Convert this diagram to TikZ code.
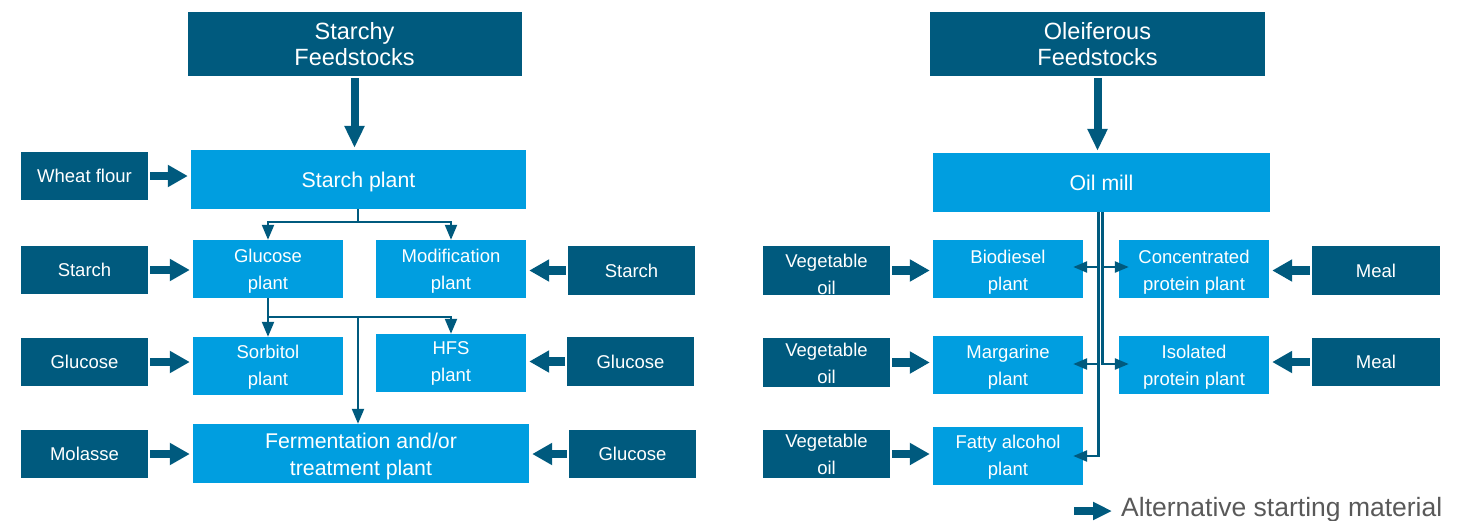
\documentclass[tikz,border=0pt]{standalone}
\usepackage{fontspec}
\setmainfont{Liberation Sans}
\usetikzlibrary{arrows.meta}
\definecolor{dk}{RGB}{0,90,126}
\definecolor{lt}{RGB}{0,158,224}
\definecolor{lg}{RGB}{89,89,89}
\newcommand\dn[2]{\raisebox{-#1}[\height][\depth]{#2}}
\begin{document}
\begin{tikzpicture}[x=1pt,y=-1pt,
  box/.style={inner sep=0pt,align=center,text=white,anchor=center},
  darkbox/.style={box,fill=dk,minimum width=127pt,minimum height=48pt,font=\fontsize{18.5}{27}\selectfont},
  headbox/.style={box,fill=dk,minimum width=334pt,minimum height=64pt,font=\fontsize{23.5}{26}\selectfont},
  bigbox/.style={box,fill=lt,minimum width=336pt,minimum height=59pt,font=\fontsize{21.3}{27}\selectfont},
  smallbox/.style={box,fill=lt,minimum width=150pt,minimum height=58pt,font=\fontsize{18.5}{27}\selectfont},
  fat/.style={draw=dk,line width=8.5pt,-{Triangle[width=21pt,length=20pt]},shorten <=2pt,shorten >=3pt},
  fatv/.style={draw=dk,line width=8pt,-{Triangle[width=19pt,length=22pt]},shorten <=2pt,shorten >=2pt},
  thinline/.style={draw=dk,line width=2.2pt},
  conn/.style={thinline,-{Triangle[width=12pt,length=15pt]}},
  connr/.style={draw=dk,line width=2.4pt,-{Triangle[width=11pt,length=14pt]},shorten >=-10pt},
]
\useasboundingbox (0,0) rectangle (1471,520);

% ---------- left part ----------
\node[headbox] (sf) at (354.5,44) {Starchy\\Feedstocks};
\node[bigbox,minimum width=335pt] (sp) at (358.5,179.5) {\dn{2pt}{Starch plant}};
\node[darkbox] (wf) at (84.5,176) {Wheat flour};
\node[smallbox] (gp) at (268,269) {\dn{2.5pt}{Glucose}\\\dn{2.5pt}{plant}};
\node[smallbox] (mp) at (451,269) {\dn{2.5pt}{Modification}\\\dn{2.5pt}{plant}};
\node[darkbox] (st1) at (84.5,270) {Starch};
\node[darkbox,minimum height=49pt] (st2) at (631.5,270.5) {Starch};
\node[smallbox] (sbp) at (268,366) {\dn{1pt}{Sorbitol}\\\dn{1pt}{plant}};
\node[smallbox] (hfs) at (451,363) {HFS\\plant};
\node[darkbox] (gl1) at (84.5,362) {Glucose};
\node[darkbox,minimum height=49pt] (gl2) at (630.5,361.5) {Glucose};
\node[bigbox] (fp) at (361,453.5) {\dn{2.5pt}{Fermentation and/or}\\\dn{2.5pt}{treatment plant}};
\node[darkbox] (mo) at (84.5,454) {Molasse};
\node[darkbox] (gl3) at (632.5,454) {Glucose};

\draw[fatv] (sf.south) -- (sf.south |- sp.north);
\draw[fat] (wf.east) -- (wf.east -| sp.west);
\draw[fat] (st1.east) -- (st1.east -| gp.west);
\draw[fat] (st2.west) -- (st2.west -| mp.east);
\draw[fat] (gl1.east) -- (gl1.east -| sbp.west);
\draw[fat] (gl2.west) -- (gl2.west -| hfs.east);
\draw[fat] (mo.east) -- (mo.east -| fp.west);
\draw[fat] (gl3.west) -- (gl3.west -| fp.east);

\coordinate (j1) at (358,222);
\coordinate (j2) at (268,317);
\coordinate (j3) at (358,317);
\draw[thinline] (sp.south -| j1) -- (j1);
\draw[conn] (j1) -| (gp.north);
\draw[conn] (j1) -| (mp.north);
\draw[conn] (gp.south) -- (j2) -- (sbp.north);
\draw[conn] (j2) -| (hfs.north);
\draw[conn] (j3) -- (j3 |- fp.north);

% ---------- right part ----------
\node[headbox,minimum width=335pt] (of) at (1097.5,44) {Oleiferous\\Feedstocks};
\node[bigbox,minimum width=337pt] (om) at (1101.5,182.5) {Oil mill};
\node[smallbox] (bd) at (1008,269) {\dn{3pt}{Biodiesel}\\\dn{3pt}{plant}};
\node[smallbox] (cp) at (1194,269) {\dn{3pt}{Concentrated}\\\dn{3pt}{protein plant}};
\node[darkbox,minimum width=128pt,minimum height=49pt] (me1) at (1376,270.5) {Meal};
\node[darkbox,minimum height=49pt] (vo1) at (826.5,270.5) {\dn{4pt}{Vegetable}\\\dn{4pt}{oil}};
\node[smallbox] (mg) at (1008,365) {\dn{2pt}{Margarine}\\\dn{2pt}{plant}};
\node[smallbox] (ip) at (1194,365) {\dn{2pt}{Isolated}\\\dn{2pt}{protein plant}};
\node[darkbox,minimum width=128pt] (me2) at (1376,362) {Meal};
\node[darkbox,minimum height=49pt] (vo2) at (826.5,362.5) {\dn{1pt}{Vegetable}\\\dn{1pt}{oil}};
\node[smallbox] (fa) at (1008,456) {\dn{1pt}{Fatty alcohol}\\\dn{1pt}{plant}};
\node[darkbox] (vo3) at (826.5,454) {Vegetable\\oil};

\draw[fatv] (of.south) -- (of.south |- om.north);
\draw[fat] (vo1.east) -- (vo1.east -| bd.west);
\draw[fat] (vo2.east) -- (vo2.east -| mg.west);
\draw[fat] (vo3.east) -- (vo3.east -| fa.west);
\draw[fat] (me1.west) -- (me1.west -| cp.east);
\draw[fat] (me2.west) -- (me2.west -| ip.east);

\coordinate (xA) at (1098.3,0);
\coordinate (xB) at (1102.3,0);
\coordinate (yb) at (0,267);
\coordinate (ym) at (0,364);
\coordinate (yf) at (0,456);
\draw[connr] (om.south -| xA) -- (xA |- yf) -- (fa.east |- yf);
\draw[connr] (xA |- yb) -- (bd.east |- yb);
\draw[connr] (xA |- ym) -- (mg.east |- ym);
\draw[connr] (om.south -| xB) -- (xB |- ym) -- (ip.west |- ym);
\draw[connr] (xB |- yb) -- (cp.west |- yb);

% ---------- legend ----------
\node[inner sep=0pt,anchor=base west,text=lg,font=\fontsize{26.5}{30}\selectfont] (lgd) at (1121,516) {Alternative starting material};
\coordinate (la) at (1074,511);
\draw[draw=dk,line width=8pt,-{Triangle[width=17pt,length=19pt]},shorten >=9pt] (la) -- (la -| lgd.west);
\end{tikzpicture}
\end{document}
